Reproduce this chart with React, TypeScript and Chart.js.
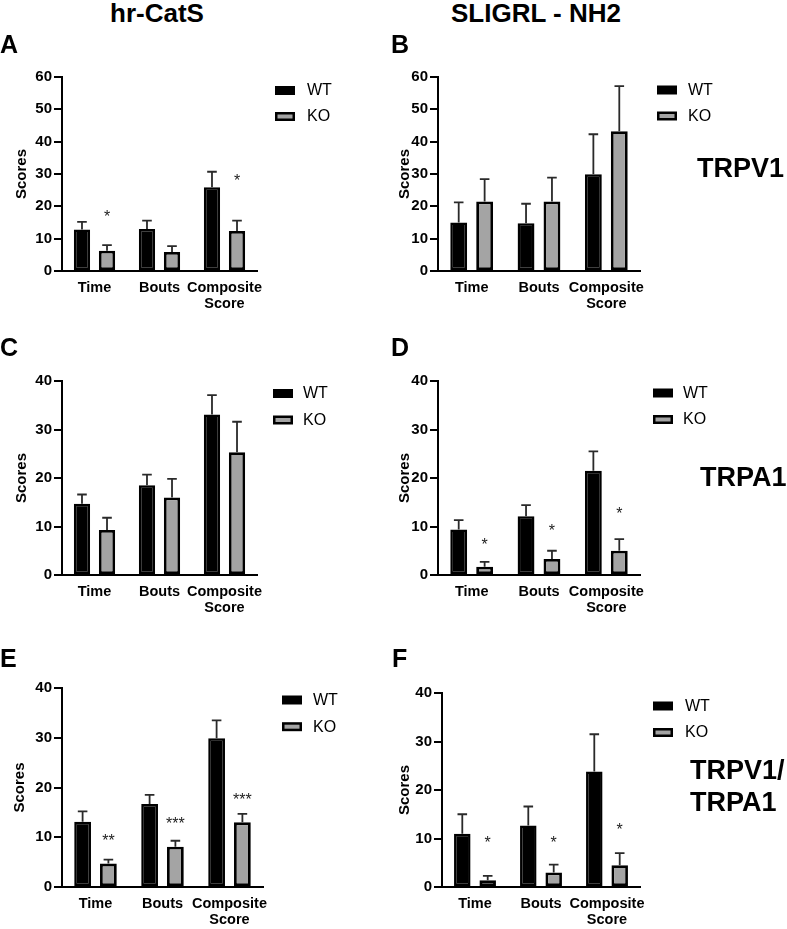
import React, { useEffect, useRef } from 'react';
import { Chart, registerables } from 'chart.js';

Chart.register(...registerables);

const FONT = "'Liberation Sans', Arial, Helvetica, sans-serif";
Chart.defaults.font.family = FONT;

// ---------- data ----------
const categories = [['Time'], ['Bouts'], ['Composite', 'Score']];
const seriesNames = ['WT', 'KO'];
const yTickStep = 10;

// A: hr-CatS / TRPV1
const aMax = 60;
const aWT = [12.8, 13.0, 25.9];
const aWTsem = [2.4, 2.6, 4.8];
const aKO = [6.3, 5.9, 12.4];
const aKOsem = [1.7, 1.8, 3.2];
const aStars = ['*', '', '*'];
const aStarAt = [17.8, 0, 29.2];

// B: SLIGRL-NH2 / TRPV1
const bMax = 60;
const bWT = [15.0, 14.8, 29.9];
const bWTsem = [6.2, 6.0, 12.4];
const bKO = [21.5, 21.5, 43.2];
const bKOsem = [6.9, 7.4, 14.0];
const bStars = ['', '', ''];
const bStarAt = [0, 0, 0];

// C: hr-CatS / TRPA1
const cMax = 40;
const cWT = [14.7, 18.5, 33.1];
const cWTsem = [1.9, 2.2, 4.0];
const cKO = [9.3, 16.0, 25.3];
const cKOsem = [2.5, 3.8, 6.3];
const cStars = ['', '', ''];
const cStarAt = [0, 0, 0];

// D: SLIGRL-NH2 / TRPA1
const dMax = 40;
const dWT = [9.4, 12.1, 21.5];
const dWTsem = [1.9, 2.3, 4.0];
const dKO = [1.7, 3.3, 5.0];
const dKOsem = [1.0, 1.7, 2.4];
const dStars = ['*', '*', '*'];
const dStarAt = [7.1, 10.0, 13.4];

// E: hr-CatS / TRPV1-TRPA1
const eMax = 40;
const eWT = [13.1, 16.7, 29.9];
const eWTsem = [2.1, 1.8, 3.6];
const eKO = [4.7, 8.1, 13.0];
const eKOsem = [0.8, 1.2, 1.7];
const eStars = ['**', '***', '***'];
const eStarAt = [10.0, 13.5, 18.3];

// F: SLIGRL-NH2 / TRPV1-TRPA1
const fMax = 40;
const fWT = [11.0, 12.7, 23.8];
const fWTsem = [4.0, 3.9, 7.7];
const fKO = [1.4, 3.0, 4.5];
const fKOsem = [0.9, 1.6, 2.5];
const fStars = ['*', '*', '*'];
const fStarAt = [10.0, 10.0, 12.6];

// ---------- layout (page px) ----------
const panels = [
  { id: 'A', max: aMax, wt: aWT, wtSem: aWTsem, ko: aKO, koSem: aKOsem, stars: aStars, starAt: aStarAt,
    box: { left: 0, top: 40, width: 390, height: 292 }, plot: { l: 62, r: 257, t: 77, b: 271 }, titleX: 22,
    legend: { x: 275, y: 90.5, gap: 26, tx: 307 } },
  { id: 'B', max: bMax, wt: bWT, wtSem: bWTsem, ko: bKO, koSem: bKOsem, stars: bStars, starAt: bStarAt,
    box: { left: 390, top: 40, width: 397, height: 292 }, plot: { l: 438, r: 640, t: 77, b: 271 }, titleX: 405,
    legend: { x: 657, y: 90, gap: 26, tx: 688 } },
  { id: 'C', max: cMax, wt: cWT, wtSem: cWTsem, ko: cKO, koSem: cKOsem, stars: cStars, starAt: cStarAt,
    box: { left: 0, top: 340, width: 390, height: 282 }, plot: { l: 62, r: 257, t: 381, b: 575 }, titleX: 21.7,
    legend: { x: 273, y: 393.5, gap: 26.5, tx: 303 } },
  { id: 'D', max: dMax, wt: dWT, wtSem: dWTsem, ko: dKO, koSem: dKOsem, stars: dStars, starAt: dStarAt,
    box: { left: 390, top: 340, width: 397, height: 282 }, plot: { l: 438, r: 640, t: 381, b: 575 }, titleX: 405,
    legend: { x: 653, y: 393, gap: 26.5, tx: 683 } },
  { id: 'E', max: eMax, wt: eWT, wtSem: eWTsem, ko: eKO, koSem: eKOsem, stars: eStars, starAt: eStarAt,
    box: { left: 0, top: 650, width: 390, height: 279 }, plot: { l: 62, r: 263, t: 688, b: 887 }, titleX: 20,
    legend: { x: 282, y: 700, gap: 26.7, tx: 313 } },
  { id: 'F', max: fMax, wt: fWT, wtSem: fWTsem, ko: fKO, koSem: fKOsem, stars: fStars, starAt: fStarAt,
    box: { left: 390, top: 650, width: 397, height: 279 }, plot: { l: 442, r: 640, t: 693, b: 887 }, titleX: 405,
    legend: { x: 653, y: 706, gap: 26.5, tx: 685 } },
];

// ---------- plugins ----------
const errorBarsPlugin = {
  id: 'errorBars',
  afterDatasetsDraw(chart: any) {
    const { ctx } = chart;
    const yScale = chart.scales.y;
    chart.data.datasets.forEach((ds: any, di: number) => {
      if (!ds.errorUp) return;
      const meta = chart.getDatasetMeta(di);
      ctx.save();
      ctx.strokeStyle = '#2a2a2a';
      ctx.lineWidth = 1.8;
      meta.data.forEach((bar: any, i: number) => {
        const top = yScale.getPixelForValue(ds.data[i] + ds.errorUp[i]);
        const x = bar.x;
        ctx.beginPath();
        ctx.moveTo(x, bar.y);
        ctx.lineTo(x, top);
        ctx.moveTo(x - 4.8, top);
        ctx.lineTo(x + 4.8, top);
        ctx.stroke();
      });
      ctx.restore();
    });
  },
};

const starsPlugin = {
  id: 'stars',
  afterDatasetsDraw(chart: any) {
    const { ctx } = chart;
    const yScale = chart.scales.y;
    chart.data.datasets.forEach((ds: any, di: number) => {
      if (!ds.stars) return;
      const meta = chart.getDatasetMeta(di);
      ctx.save();
      ctx.fillStyle = '#222';
      ctx.font = `16px ${FONT}`;
      ctx.textAlign = 'center';
      ctx.textBaseline = 'alphabetic';
      meta.data.forEach((bar: any, i: number) => {
        const s = ds.stars[i];
        if (!s) return;
        const y = yScale.getPixelForValue(ds.starAt[i]);
        ctx.fillText(s, bar.x, y + 9);
      });
      ctx.restore();
    });
  },
};

const boxLegendPlugin = {
  id: 'boxLegend',
  afterDraw(chart: any, _args: any, opts: any) {
    const { ctx } = chart;
    ctx.save();
    chart.data.datasets.forEach((ds: any, i: number) => {
      const cy = opts.y + i * opts.gap;
      ctx.fillStyle = '#000';
      ctx.fillRect(opts.x, cy - 4.5, 20, 9);
      ctx.fillStyle = ds.backgroundColor;
      ctx.fillRect(opts.x + 2.5, cy - 2, 15, 4);
      ctx.fillStyle = '#000';
      ctx.font = `16px ${FONT}`;
      ctx.textAlign = 'left';
      ctx.textBaseline = 'middle';
      ctx.fillText(ds.label, opts.tx, cy + 0.5);
    });
    ctx.restore();
  },
};

function Panel({ p }: { p: any }) {
  const ref = useRef<HTMLCanvasElement>(null);
  useEffect(() => {
    const { box, plot } = p;
    const yWidth = plot.l - box.left;
    const xHeight = box.top + box.height - plot.b;
    const chart = new Chart(ref.current as HTMLCanvasElement, {
      type: 'bar',
      data: {
        labels: categories as any,
        datasets: [
          {
            label: seriesNames[0], data: p.wt, errorUp: p.wtSem,
            backgroundColor: '#000', borderColor: '#000', borderWidth: 2.5, borderSkipped: false,
            categoryPercentage: 0.77, barPercentage: 0.65,
          } as any,
          {
            label: seriesNames[1], data: p.ko, errorUp: p.koSem, stars: p.stars, starAt: p.starAt,
            backgroundColor: '#a4a4a4', borderColor: '#000', borderWidth: 2.8, borderSkipped: false,
            categoryPercentage: 0.77, barPercentage: 0.65,
          } as any,
        ],
      },
      options: {
        responsive: false,
        animation: false,
        events: [],
        layout: { padding: { top: plot.t - box.top, right: box.left + box.width - plot.r, left: 0, bottom: 0 } },
        plugins: {
          legend: { display: false },
          tooltip: { enabled: false },
          boxLegend: { x: p.legend.x - box.left, y: p.legend.y - box.top, gap: p.legend.gap, tx: p.legend.tx - box.left },
        } as any,
        scales: {
          x: {
            grid: { display: false, drawTicks: false },
            border: { display: true, color: '#000', width: 2 },
            ticks: {
              color: '#000', font: { size: 14.5, weight: 'bold', lineHeight: 1.1 },
              padding: 9, maxRotation: 0, autoSkip: false,
            },
            afterFit: (s: any) => { s.height = xHeight; },
          },
          y: {
            min: 0, max: p.max,
            grid: { display: true, drawOnChartArea: false, drawTicks: true, tickLength: 8, color: '#000', lineWidth: 2 },
            border: { display: true, color: '#000', width: 2 },
            ticks: { stepSize: yTickStep, color: '#000', font: { size: 15, weight: 'bold' }, padding: 2 },
            title: {
              display: true, text: 'Scores', color: '#000',
              font: { size: 15, weight: 'bold', lineHeight: 1.2 },
              padding: { top: p.titleX - box.left - 9, bottom: 0 },
            },
            afterFit: (s: any) => { s.width = yWidth; },
          },
        },
      } as any,
      plugins: [errorBarsPlugin, starsPlugin, boxLegendPlugin],
    });
    return () => chart.destroy();
  }, [p]);
  return (
    <canvas
      ref={ref}
      width={p.box.width}
      height={p.box.height}
      style={{ position: 'absolute', left: p.box.left, top: p.box.top, width: p.box.width, height: p.box.height }}
    />
  );
}

function Txt({ text, left, baseline, size, width, align }: any) {
  const top = baseline - 0.8465 * size;
  return (
    <div
      style={{
        position: 'absolute', left, top, width: width ?? 'auto', textAlign: align ?? 'left',
        fontFamily: FONT, fontWeight: 'bold', fontSize: size, lineHeight: `${size}px`,
        whiteSpace: 'nowrap', color: '#000',
      }}
    >
      {text}
    </div>
  );
}

export default function App() {
  return (
    <div style={{ position: 'absolute', left: 0, top: 0, width: 787, height: 929, background: '#fff', overflow: 'hidden' }}>
      {panels.map((p) => <Panel key={p.id} p={p} />)}
      <Txt text="hr-CatS" left={7} width={300} align="center" baseline={21.7} size={26} />
      <Txt text="SLIGRL - NH2" left={386} width={300} align="center" baseline={21.7} size={26} />
      <Txt text="A" left={0} baseline={53} size={25} />
      <Txt text="B" left={391} baseline={53} size={25} />
      <Txt text="C" left={0} baseline={356.5} size={25} />
      <Txt text="D" left={391} baseline={356.5} size={25} />
      <Txt text="E" left={0} baseline={667} size={25} />
      <Txt text="F" left={392} baseline={667} size={25} />
      <Txt text="TRPV1" left={697} baseline={178.3} size={27} />
      <Txt text="TRPA1" left={700} baseline={486.5} size={27} />
      <Txt text="TRPV1/" left={690} baseline={780} size={27} />
      <Txt text="TRPA1" left={690} baseline={811.7} size={27} />
    </div>
  );
}
